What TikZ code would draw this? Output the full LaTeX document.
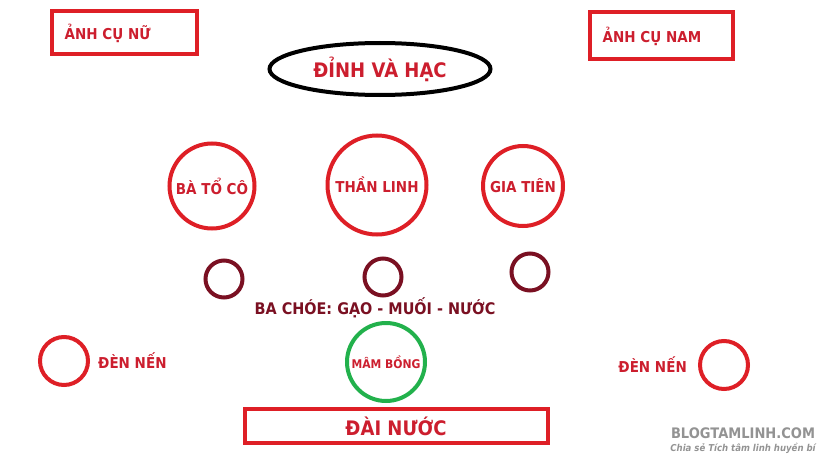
\documentclass[tikz,border=0pt]{standalone}
\usepackage{fontspec}
\setmainfont{DejaVu Sans}[FakeStretch=0.9]
\usetikzlibrary{shapes.geometric, positioning}
\definecolor{dodo}{RGB}{222,31,38}
\definecolor{chudo}{RGB}{204,30,46}
\definecolor{naudo}{RGB}{122,16,34}
\definecolor{xanhla}{RGB}{34,177,76}

\begin{document}
\begin{tikzpicture}[
         x=1pt, y=-1pt,
         khung/.style={rectangle, draw=dodo, line width=4pt, inner sep=0pt},
         vong/.style={circle, draw=dodo, line width=4pt, inner sep=0pt},
         choe/.style={circle, draw=naudo, line width=4pt, inner sep=0pt, minimum size=37pt},
         nhan/.style={font=\fontsize{15}{18}\selectfont\bfseries, text=chudo, inner sep=0pt},
         logo/.style={font=\bfseries, text=gray!85, inner sep=0pt}
      ]
         \useasboundingbox (0,0) rectangle (819,460);

         % Anh tho hai ben
         \node[khung, minimum width=145pt, minimum height=43pt] (anhNu) at (124,33) {};
         \node[nhan, anchor=west, right=15pt of anhNu.west] {ẢNH CỤ NỮ};
         \node[khung, minimum width=143pt, minimum height=47pt] (anhNam) at (661,36) {};
         \node[nhan, anchor=west, right=15pt of anhNam.west] {ẢNH CỤ NAM};

         % Dinh va hac
         \node[ellipse, draw, line width=4pt, minimum width=221pt, minimum height=52pt,
               inner sep=0pt, nhan, font=\fontsize{20}{23}\selectfont\bfseries] (dinhHac) at (380,69) {ĐỈNH VÀ HẠC};

         % Ba ban tho
         \node[vong, nhan, minimum size=85pt] (baToCo) at (212,186) {BÀ TỔ CÔ};
         \node[vong, nhan, minimum size=99pt] (thanLinh) at (377,185) {THẦN LINH};
         \node[vong, nhan, minimum size=80pt] (giaTien) at (523,186) {GIA TIÊN};

         % Ba choe
         \node[choe] (choeGao) at (224,279) {};
         \node[choe] (choeMuoi) at (383,277) {};
         \node[choe] (choeNuoc) at (530,272) {};
         \node[nhan, text=naudo, font=\fontsize{16}{19}\selectfont\bfseries] (baChoe) at (375,308) {BA CHÓE: GẠO - MUỐI - NƯỚC};

         % Den nen va mam bong
         \node[vong, minimum size=48pt] (denTrai) at (64,361) {};
         \node[nhan, right=8pt of denTrai] {ĐÈN NẾN};
         \node[vong, minimum size=48pt] (denPhai) at (724,365) {};
         \node[nhan, left=11pt of denPhai] {ĐÈN NẾN};
         \node[vong, draw=xanhla, nhan, font=\fontsize{12}{14}\selectfont\bfseries,
               minimum size=78pt] (mamBong) at (386,362) {MÂM BỒNG};

         % Dai nuoc
         \node[khung, nhan, font=\fontsize{20}{23}\selectfont\bfseries,
               minimum width=303pt, minimum height=34pt] (daiNuoc) at (396,426) {ĐÀI NƯỚC};

         % Logo
         \node[logo, font=\fontsize{14.5}{17}\selectfont\bfseries] (logoTen) at (743,433) {BLOGTAMLINH.COM};
         \node[logo, font=\fontsize{9.5}{11}\selectfont\bfseries\itshape, below=4pt of logoTen] {Chia sẻ Tích tâm linh huyền bí};
      \end{tikzpicture}
\end{document}
